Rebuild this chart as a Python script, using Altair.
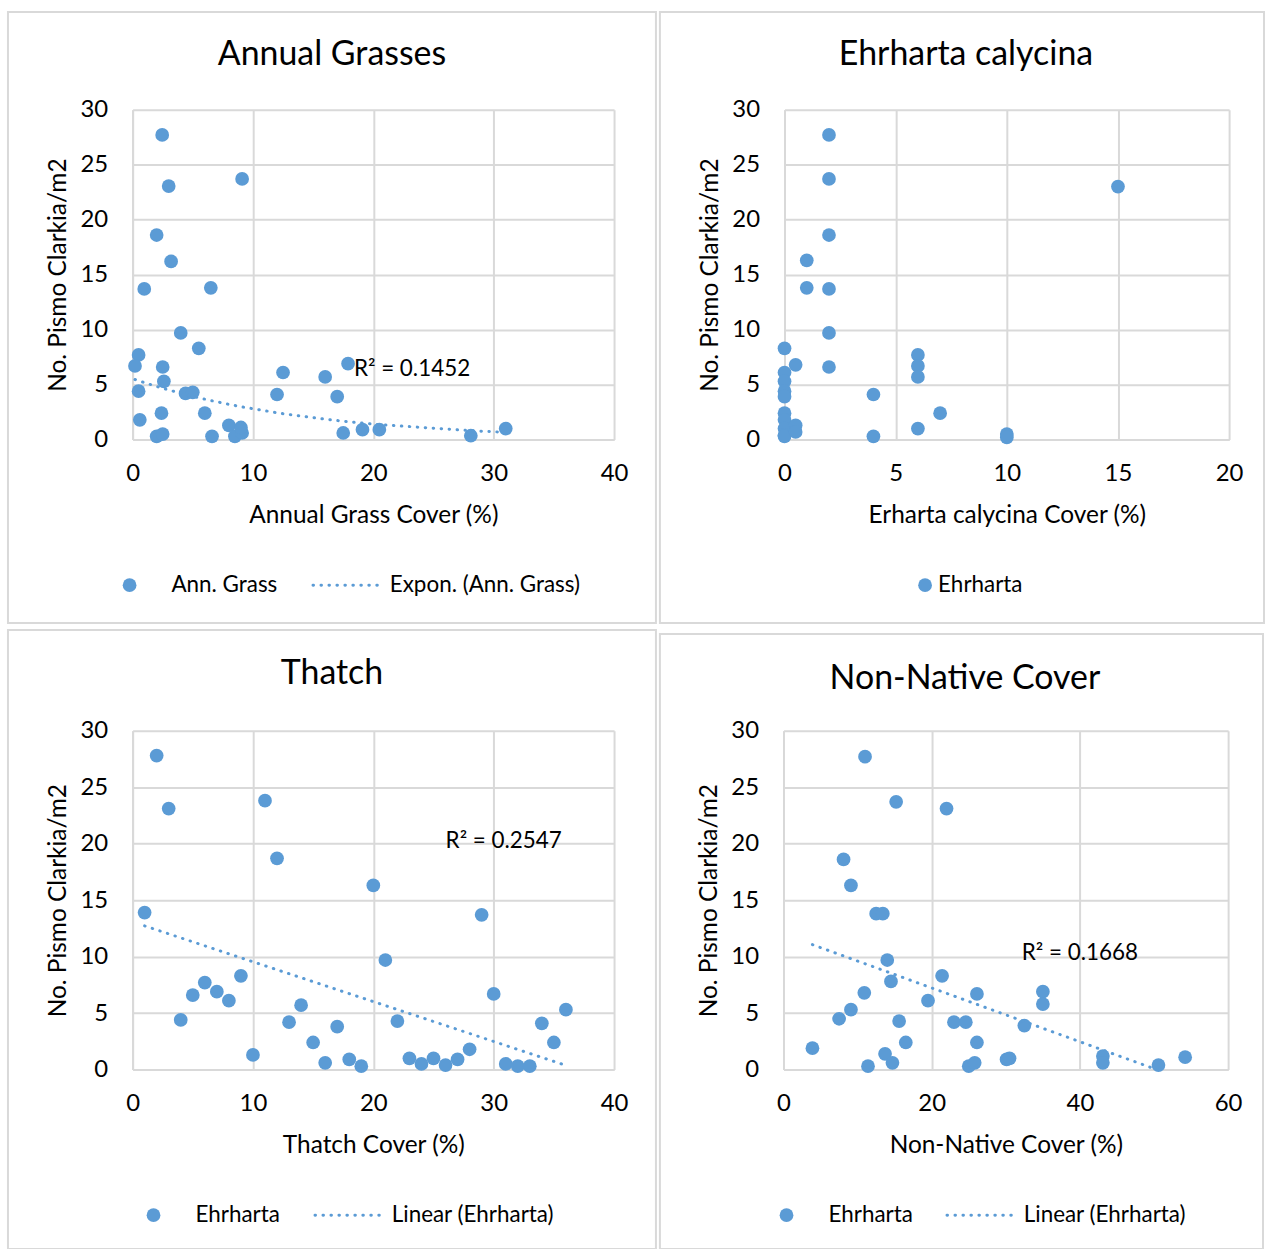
import altair as alt
import pandas as pd

FONT = "Lato"
BLUE = "#5B9BD5"
GRID = "#d9d9d9"
TXT = "#000000"

# ---- Annual Grasses ----
ag_x = [2.46, 3.0, 9.1, 2.0, 3.2, 0.97, 6.5, 4.0, 5.5, 0.5, 0.2, 2.5, 2.6, 0.5, 4.4, 5.0,
        12.5, 16.0, 17.9, 12.0, 17.0, 0.6, 2.4, 6.0, 2.0, 2.5, 6.6, 8.0, 8.5, 9.1, 9.0,
        17.5, 19.1, 20.5, 28.1, 31.0]
ag_y = [27.7, 23.05, 23.7, 18.6, 16.2, 13.7, 13.8, 9.7, 8.3, 7.7, 6.7, 6.6, 5.3, 4.4, 4.2, 4.3,
        6.1, 5.7, 6.9, 4.1, 3.9, 1.8, 2.4, 2.4, 0.3, 0.5, 0.3, 1.3, 0.3, 0.6, 1.1,
        0.6, 0.9, 0.9, 0.35, 1.0]

# ---- Ehrharta calycina ----
eh_x = [2, 2, 2, 2, 2, 2, 1, 1, 0, 0, 0, 0, 0, 0, 0, 0, 0, 0, 0.5, 0.5, 0.5,
        4, 4, 6, 6, 6, 6, 7, 10, 10, 15]
eh_y = [27.7, 23.7, 18.6, 13.7, 9.7, 6.6, 16.3, 13.8, 8.3, 6.1, 5.3, 4.4, 3.9, 2.4, 1.8, 1.0, 0.4, 0.3,
        6.8, 1.3, 0.7, 4.1, 0.3, 7.7, 6.7, 5.7, 1.0, 2.4, 0.5, 0.2, 23.0]

# ---- Thatch ----
th_x = [2, 3, 11, 12, 20, 1, 9, 6, 5, 7, 8, 4, 10, 13, 14, 15, 16, 17, 18, 19,
        29, 21, 30, 22, 23, 24, 25, 26, 27, 28, 31, 32, 33, 34, 35, 36]
th_y = [27.8, 23.1, 23.8, 18.7, 16.3, 13.9, 8.3, 7.7, 6.6, 6.9, 6.1, 4.4, 1.3, 4.2, 5.7, 2.4, 0.6, 3.8, 0.9, 0.3,
        13.7, 9.7, 6.7, 4.3, 1.0, 0.5, 1.0, 0.4, 0.9, 1.8, 0.5, 0.3, 0.3, 4.1, 2.4, 5.3]

# ---- Non-Native Cover ----
nn_x = [11.0, 15.2, 22.0, 8.1, 9.1, 12.5, 13.4, 14.0, 21.4, 14.5, 10.9, 26.1, 19.5, 9.1, 7.5, 15.6,
        23.0, 24.6, 3.9, 16.5, 26.1, 13.7, 14.7, 11.4, 25.0, 25.8, 30.1, 30.5, 35.0, 35.0, 32.5,
        43.1, 43.1, 50.6, 54.2]
nn_y = [27.7, 23.7, 23.1, 18.6, 16.3, 13.8, 13.8, 9.7, 8.3, 7.8, 6.8, 6.7, 6.1, 5.3, 4.5, 4.3,
        4.2, 4.2, 1.9, 2.4, 2.4, 1.4, 0.6, 0.3, 0.3, 0.6, 0.9, 1.0, 6.9, 5.8, 3.9,
        1.2, 0.6, 0.4, 1.1]

Y_TICKS = [0, 5, 10, 15, 20, 25, 30]
ONE = pd.DataFrame({"k": [0]})

LBL = 24      # tick labels
AXT = 24.5    # axis titles
LEG = 22.5    # legend / R2
TTL = 34      # chart titles


def txt(text, x, y, size=LEG, align="left", baseline="middle"):
    return alt.Chart(ONE).mark_text(text=text, font=FONT, fontSize=size, color=TXT,
                                     align=align, baseline=baseline).encode(
        x=alt.value(x), y=alt.value(y))


def panel(xs, ys, xmax, xticks, w, h, title, xtitle, box, title_xy,
          series, trend=None, trend_name=None, r2=None, r2_xy=None, legend=None):
    df = pd.DataFrame({"x": xs, "y": ys})
    xsc = alt.Scale(domain=[0, xmax], nice=False, zero=True)
    ysc = alt.Scale(domain=[0, 30], nice=False)
    xaxis = alt.Axis(values=xticks, grid=True, gridColor=GRID, gridWidth=2,
                     domainColor=GRID, domainWidth=2, ticks=False, labelFlush=False,
                     labelFont=FONT, labelFontSize=LBL, labelColor=TXT, labelPadding=22,
                     title=xtitle, titleFont=FONT, titleFontSize=AXT, titleFontWeight="normal",
                     titleColor=TXT, titleX=w / 2, titleY=76, titleBaseline="middle",
                     titleAlign="center")
    yaxis = alt.Axis(values=Y_TICKS, grid=True, gridColor=GRID, gridWidth=2,
                     domainColor=GRID, domainWidth=2, ticks=False, labelFlush=False,
                     labelFont=FONT, labelFontSize=LBL, labelColor=TXT, labelPadding=25,
                     title="No. Pismo Clarkia/m2", titleFont=FONT, titleFontSize=AXT,
                     titleFontWeight="normal", titleColor=TXT, titleX=-74, titleY=h / 2,
                     titleAngle=270, titleBaseline="middle", titleAlign="center")
    X = alt.X("x:Q", scale=xsc, axis=xaxis)
    base = alt.Chart(df)
    bx0, bx1, by0, by1 = box
    border = alt.Chart(ONE).mark_rect(fill="transparent", stroke=GRID, strokeWidth=2).encode(
        x=alt.value(bx0), x2=alt.value(bx1), y=alt.value(by0), y2=alt.value(by1))
    pts = base.mark_circle(size=190, color=BLUE, opacity=1).encode(
        x=X, y=alt.Y("y:Q", scale=ysc, axis=yaxis))
    layers = [border, pts]
    dot_line = dict(color=BLUE, strokeWidth=3, strokeDash=[0.5, 7.5], strokeCap="round")
    if trend == "exp":
        tl = base.transform_calculate(
            ly="log(datum.y)", xly="datum.x*log(datum.y)", xx="datum.x*datum.x"
        ).transform_joinaggregate(
            mx="mean(x)", mly="mean(ly)", mxly="mean(xly)", mxx="mean(xx)"
        ).transform_calculate(
            b="(datum.mxly - datum.mx*datum.mly)/(datum.mxx - datum.mx*datum.mx)"
        ).transform_calculate(
            y="exp(datum.mly + datum.b*(datum.x - datum.mx))"
        ).mark_line(clip=True, **dot_line).encode(
            x=X, y=alt.Y("y:Q", scale=ysc, axis=yaxis))
        layers.append(tl)
    elif trend == "lin":
        tl = base.transform_regression("x", "y").mark_line(clip=True, **dot_line).encode(
            x=X, y=alt.Y("y:Q", scale=ysc, axis=yaxis))
        layers.append(tl)
    if r2:
        layers.append(txt(r2, r2_xy[0], r2_xy[1]))
    layers.append(txt(title, title_xy[0], title_xy[1], size=TTL, align="center"))
    # legend
    cx, ly, tx = legend[0], legend[1], legend[2]
    layers.append(alt.Chart(ONE).mark_circle(size=190, color=BLUE, opacity=1).encode(
        x=alt.value(cx), y=alt.value(ly)))
    layers.append(txt(series, tx, ly))
    if trend:
        l0, l1, t2 = legend[3], legend[4], legend[5]
        layers.append(alt.Chart(ONE).mark_rule(**dot_line).encode(
            x=alt.value(l0), x2=alt.value(l1), y=alt.value(ly)))
        layers.append(txt(trend_name, t2, ly))
    return alt.layer(*layers).properties(width=w, height=h)


p1 = panel(ag_x, ag_y, 40, [0, 10, 20, 30, 40], 483, 331, "Annual Grasses",
           "Annual Grass Cover (%)", (-125, 525, -98, 515), (200, -55),
           "Ann. Grass", trend="exp", trend_name="Expon. (Ann. Grass)",
           r2="R² = 0.1452", r2_xy=(222, 260), legend=(-3, 477, 39, 181, 251, 258))
p2 = panel(eh_x, eh_y, 20, [0, 5, 10, 15, 20], 446, 331, "Ehrharta calycina",
           "Erharta calycina Cover (%)", (-125, 481, -98, 515), (182, -55),
           "Ehrharta", legend=(141, 477, 154))
p3 = panel(th_x, th_y, 40, [0, 10, 20, 30, 40], 483, 340, "Thatch",
           "Thatch Cover (%)", (-125, 525, -101, 520), (200, -57),
           "Ehrharta", trend="lin", trend_name="Linear (Ehrharta)",
           r2="R² = 0.2547", r2_xy=(314, 111), legend=(21, 486, 63, 183, 253, 260))
p4 = panel(nn_x, nn_y, 60, [0, 20, 40, 60], 446, 340, "Non-Native Cover",
           "Non-Native Cover (%)", (-124, 481, -97, 520), (182, -52),
           "Ehrharta", trend="lin", trend_name="Linear (Ehrharta)",
           r2="R² = 0.1668", r2_xy=(239, 223), legend=(3, 486, 45, 164, 234, 241))

chart = alt.vconcat(
    alt.hconcat(p1, p2, spacing=0),
    alt.hconcat(p3, p4, spacing=0),
    spacing=3,
).properties(
    padding={"left": 6, "top": 8, "right": 0, "bottom": 0},
    background="white",
).configure_view(stroke="transparent")

chart.save("out.html", embed_options={"renderer": "svg", "actions": False})
